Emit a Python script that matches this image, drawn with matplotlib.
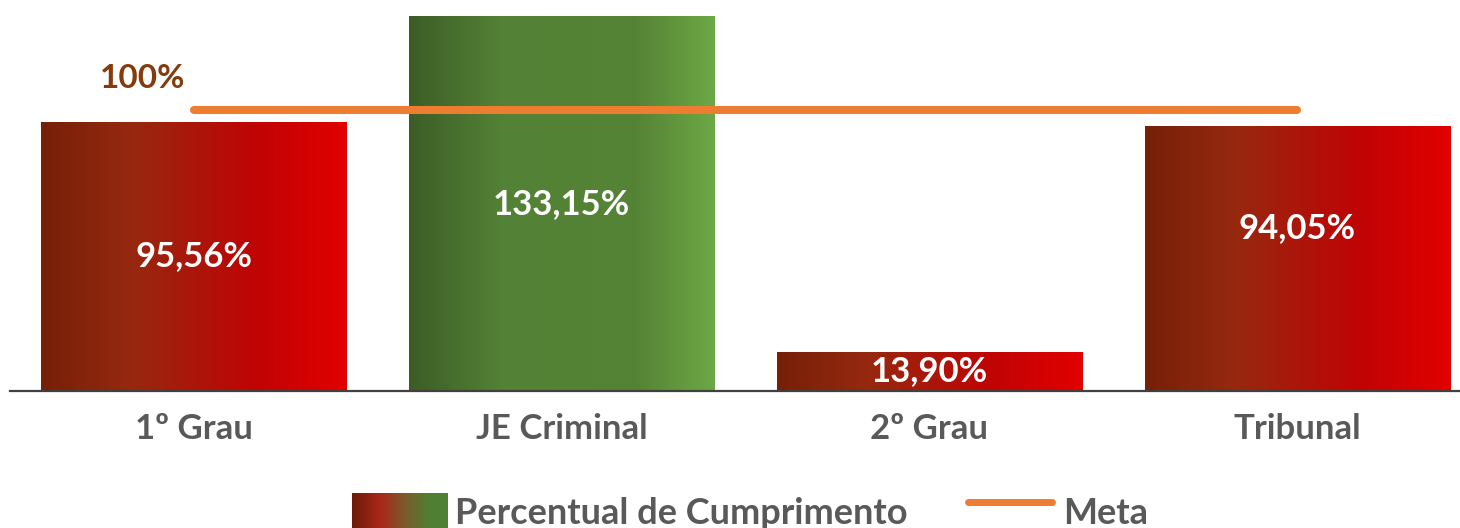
import numpy as np
import matplotlib
matplotlib.use('Agg')
import matplotlib.pyplot as plt
from matplotlib.colors import LinearSegmentedColormap
from matplotlib.lines import Line2D

categories = ['1º Grau', 'JE Criminal', '2º Grau', 'Tribunal']
percentual = [95.56, 133.15, 13.90, 94.05]
value_labels = ['95,56%', '133,15%', '13,90%', '94,05%']
meta = [100, 100, 100, 100]
meta_label = '100%'

plt.rcParams['font.family'] = ['Lato', 'DejaVu Sans']

red_cmap = LinearSegmentedColormap.from_list(
    'red', [(0, '#762008'), (0.3, '#972810'), (0.7, '#C00404'), (1, '#E20000')])
green_cmap = LinearSegmentedColormap.from_list(
    'green', [(0, '#3C5D26'), (0.3, '#538135'), (0.75, '#568436'), (1, '#6CA845')])
legend_cmap = LinearSegmentedColormap.from_list(
    'leg', [(0, '#6E1A08'), (0.3, '#A8281A'), (0.55, '#7D5A2C'), (0.8, '#4F7F33'), (1, '#4E8236')])
bar_cmaps = [red_cmap, green_cmap, red_cmap, red_cmap]

fig = plt.figure(figsize=(14.6, 5.28), dpi=100)
ax = fig.add_axes([10 / 1460, 137 / 528, 4 * 367.8 / 1460, 140 * 2.815 / 528])
ax.set_xlim(-0.5, 3.5)
ax.set_ylim(0, 140)

x = np.arange(len(categories))
bars = ax.bar(x, percentual, width=0.83, color='none', edgecolor='none', zorder=2)
grad = np.linspace(0, 1, 256).reshape(1, -1)
for b, cm in zip(bars, bar_cmaps):
    x0, y0 = b.get_x(), b.get_y()
    im = ax.imshow(grad, cmap=cm, aspect='auto', zorder=2,
                   extent=[x0, x0 + b.get_width(), y0, y0 + b.get_height()])
    im.set_clip_path(b)

ax.plot(x, meta, color='#ED7D31', lw=5.8, solid_capstyle='round', zorder=3)
ax.annotate(meta_label, (x[0], meta[0]), xytext=(-37, 22), textcoords='offset points',
            ha='center', va='center', fontsize=24, fontweight='bold', color='#843C0C')

label_shift = [0, 0, 0, 10.7]
for xi, v, lab, s in zip(x, percentual, value_labels, label_shift):
    ax.text(xi, v / 2 + s, lab, ha='center', va='center', fontsize=25,
            fontweight='bold', color='white', zorder=4)

for sp in ['top', 'left', 'right']:
    ax.spines[sp].set_visible(False)
ax.spines['bottom'].set_color('#404040')
ax.spines['bottom'].set_linewidth(1.6)
ax.spines['bottom'].set_zorder(5)
ax.set_yticks([])
ax.set_xticks(x)
ax.set_xticklabels(categories, fontsize=25, fontweight='bold', color='#595959')
ax.tick_params(axis='x', length=0, pad=16)

# legenda
lax = fig.add_axes([352 / 1460, 0, 96 / 1460, 35 / 528])
lax.imshow(grad, cmap=legend_cmap, aspect='auto')
lax.set_axis_off()
fig.text(455 / 1460, 15 / 528, 'Percentual de Cumprimento', fontsize=26, fontweight='bold',
         color='#595959', va='center', ha='left')
fig.add_artist(Line2D([968 / 1460, 1052 / 1460], [26 / 528, 26 / 528], color='#ED7D31',
                      lw=5, solid_capstyle='round', transform=fig.transFigure))
fig.text(1063 / 1460, 15 / 528, 'Meta', fontsize=26, fontweight='bold',
         color='#595959', va='center', ha='left')

fig.savefig('out.png', dpi=100)
